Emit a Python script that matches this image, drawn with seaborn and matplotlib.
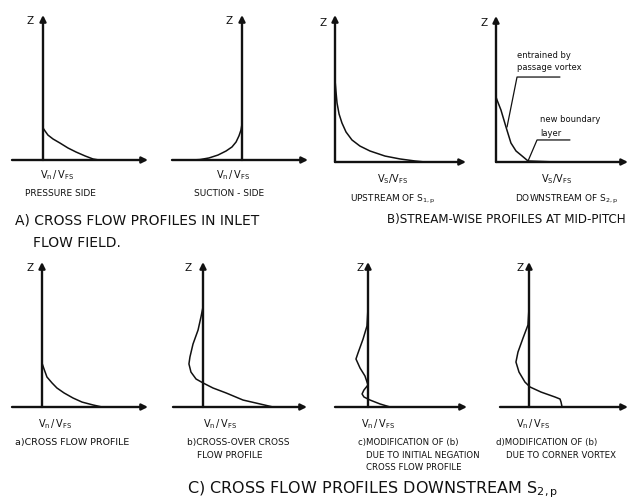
import numpy as np
import pandas as pd
import matplotlib
matplotlib.use("Agg")
import matplotlib.pyplot as plt
import seaborn as sns

sns.set_theme(style="white")
plt.rcParams['font.family'] = ['DejaVu Sans']
plt.rcParams['mathtext.fontset'] = 'dejavusans'

INK = '#111111'
W, H = 635, 500
S = 145.0  # pixels per unit (length of a Z axis)

# profile data: velocity ratio (x) against height z, z-axis arrow = 1
p1_x = [0, .014, .034, .069, .117, .172, .228, .290, .345, .386]
p1_z = [.221, .200, .172, .145, .117, .083, .055, .028, .007, 0]

p2_x = [0, -.007, -.021, -.041, -.069, -.110, -.166, -.228, -.290, -.345]
p2_z = [.248, .207, .166, .124, .090, .062, .034, .014, .003, 0]

p3_x = [0, .007, .014, .028, .048, .076, .117, .172, .241, .345, .448, .552, .621]
p3_z = [.566, .483, .407, .331, .269, .207, .152, .110, .076, .041, .021, .007, 0]

p4_x = [0, .007, .034, .069, .103, .138, .172, .221, .414]
p4_z = [.448, .428, .359, .241, .131, .076, .048, .007, 0]

pa_x = [0, .014, .034, .069, .103, .152, .214, .276, .352, .414]
pa_z = [.303, .262, .207, .166, .131, .097, .062, .034, .014, 0]

pb_x = [0, -.014, -.034, -.069, -.090, -.097, -.083, -.048, 0, .069, .159, .276, .393, .483]
pb_z = [.690, .621, .531, .434, .345, .297, .241, .193, .166, .131, .097, .048, .021, 0]

pc_x = [0, -.007, -.034, -.069, -.083, -.055, -.021, 0, -.028, -.041, -.028, .014, .083, .152]
pc_z = [.683, .559, .469, .372, .331, .269, .214, .152, .117, .090, .069, .048, .021, 0]

pd_x = [0, -.007, -.041, -.076, -.090, -.069, -.028, .007, .083, .179, .214, .221, .228]
pd_z = [.683, .566, .476, .379, .310, .241, .172, .138, .103, .069, .055, .034, 0]

# leader lines of panel 4
lead1_x = [.076, .145, .441]
lead1_z = [.241, .586, .586]
lead2_x = [.221, .283, .510]
lead2_z = [.007, .152, .152]

x_labels = [r'$\mathregular{V_n\,/\,V_{FS}}$', r'$\mathregular{V_S / V_{FS}}$']

# layout: origin x, baseline y, left, right, top (pixels)
panels = [
    (43, 160, -31, 105, 145, p1_x, p1_z),
    (242, 160, -70, 66, 145, p2_x, p2_z),
    (335, 162, 0, 131, 147, p3_x, p3_z),
    (496, 162, 0, 132, 146, p4_x, p4_z),
    (42, 407, -30, 106, 145, pa_x, pa_z),
    (203, 407, -30, 104, 145, pb_x, pb_z),
    (368, 407, -33, 99, 145, pc_x, pc_z),
    (529, 407, -29, 99, 145, pd_x, pd_z),
]

fig = plt.figure(figsize=(W / 100, H / 100), dpi=100)
fig.patch.set_facecolor('white')

axes = []
for ox, by, left, right, top, xs, zs in panels:
    ax = fig.add_axes([(ox + left) / W, (H - by) / H, (right - left) / W, top / H])
    ax.set_xlim(left / S, right / S)
    ax.set_ylim(0, top / S)
    ax.axis('off')
    arrow = dict(arrowstyle='-|>', lw=1.7, color=INK, mutation_scale=9,
                 shrinkA=0, shrinkB=0)
    ax.annotate('', xy=(right / S, 0), xytext=(left / S, 0), arrowprops=arrow,
                annotation_clip=False)
    ax.annotate('', xy=(0, top / S), xytext=(0, 0), arrowprops=arrow,
                annotation_clip=False)
    df = pd.DataFrame({'x': xs, 'z': zs})
    sns.lineplot(data=df, x='x', y='z', sort=False, estimator=None, color=INK,
                 lw=1.1, ax=ax)
    axes.append(ax)

for lx, lz in [(lead1_x, lead1_z), (lead2_x, lead2_z)]:
    sns.lineplot(x=lx, y=lz, sort=False, estimator=None, color=INK, lw=0.9,
                 ax=axes[3])


def txt(x, y, s, size, ha='center', **kw):
    fig.text(x / W, 1 - y / H, s, fontsize=size, ha=ha, va='center', color=INK, **kw)


# Z labels
for zx, zy in [(30, 21), (229, 21), (323, 23), (484, 23),
               (30, 268), (188, 268), (360, 268), (520, 268)]:
    txt(zx, zy, 'Z', 7.5)

# velocity labels
for vx, vy, k in [(57, 175, 0), (233, 175, 0), (393, 179, 1), (557, 179, 1),
                  (55, 424, 0), (220, 424, 0), (378, 424, 0), (533, 424, 0)]:
    txt(vx, vy, x_labels[k], 7)

# sub captions
txt(60, 193, 'PRESSURE SIDE', 6.5)
txt(229, 193, 'SUCTION - SIDE', 6.5)
txt(393, 199, r'UPSTREAM OF $\mathregular{S_{1,p}}$', 6.5)
txt(567, 199, r'DOWNSTREAM OF $\mathregular{S_{2,p}}$', 6.5)
txt(15, 443, 'a)CROSS FLOW PROFILE', 6.8, ha='left')
txt(187, 443, 'b)CROSS-OVER CROSS', 6.5, ha='left')
txt(197, 456, 'FLOW PROFILE', 6.5, ha='left')
txt(358, 443, 'c)MODIFICATION OF (b)', 6.2, ha='left')
txt(366, 455, 'DUE TO INITIAL NEGATION', 6.2, ha='left')
txt(366, 467, 'CROSS FLOW PROFILE', 6.2, ha='left')
txt(496, 443, 'd)MODIFICATION OF (b)', 6.2, ha='left')
txt(506, 455, 'DUE TO CORNER VORTEX', 6.2, ha='left')

# annotations in panel 4
txt(517, 55, 'entrained by', 6, ha='left')
txt(517, 68, 'passage vortex', 6, ha='left')
txt(540, 120, 'new boundary', 6, ha='left')
txt(540, 133, 'layer', 6, ha='left')

# section titles
txt(15, 221, 'A) CROSS FLOW PROFILES IN INLET', 10, ha='left')
txt(33, 243, 'FLOW FIELD.', 10, ha='left')
txt(626, 219, 'B)STREAM-WISE PROFILES AT MID-PITCH', 8.6, ha='right')
txt(373, 490, r'C) CROSS FLOW PROFILES DOWNSTREAM $\mathregular{S_{2,p}}$', 11.5)

fig.savefig('out.png', dpi=100)
